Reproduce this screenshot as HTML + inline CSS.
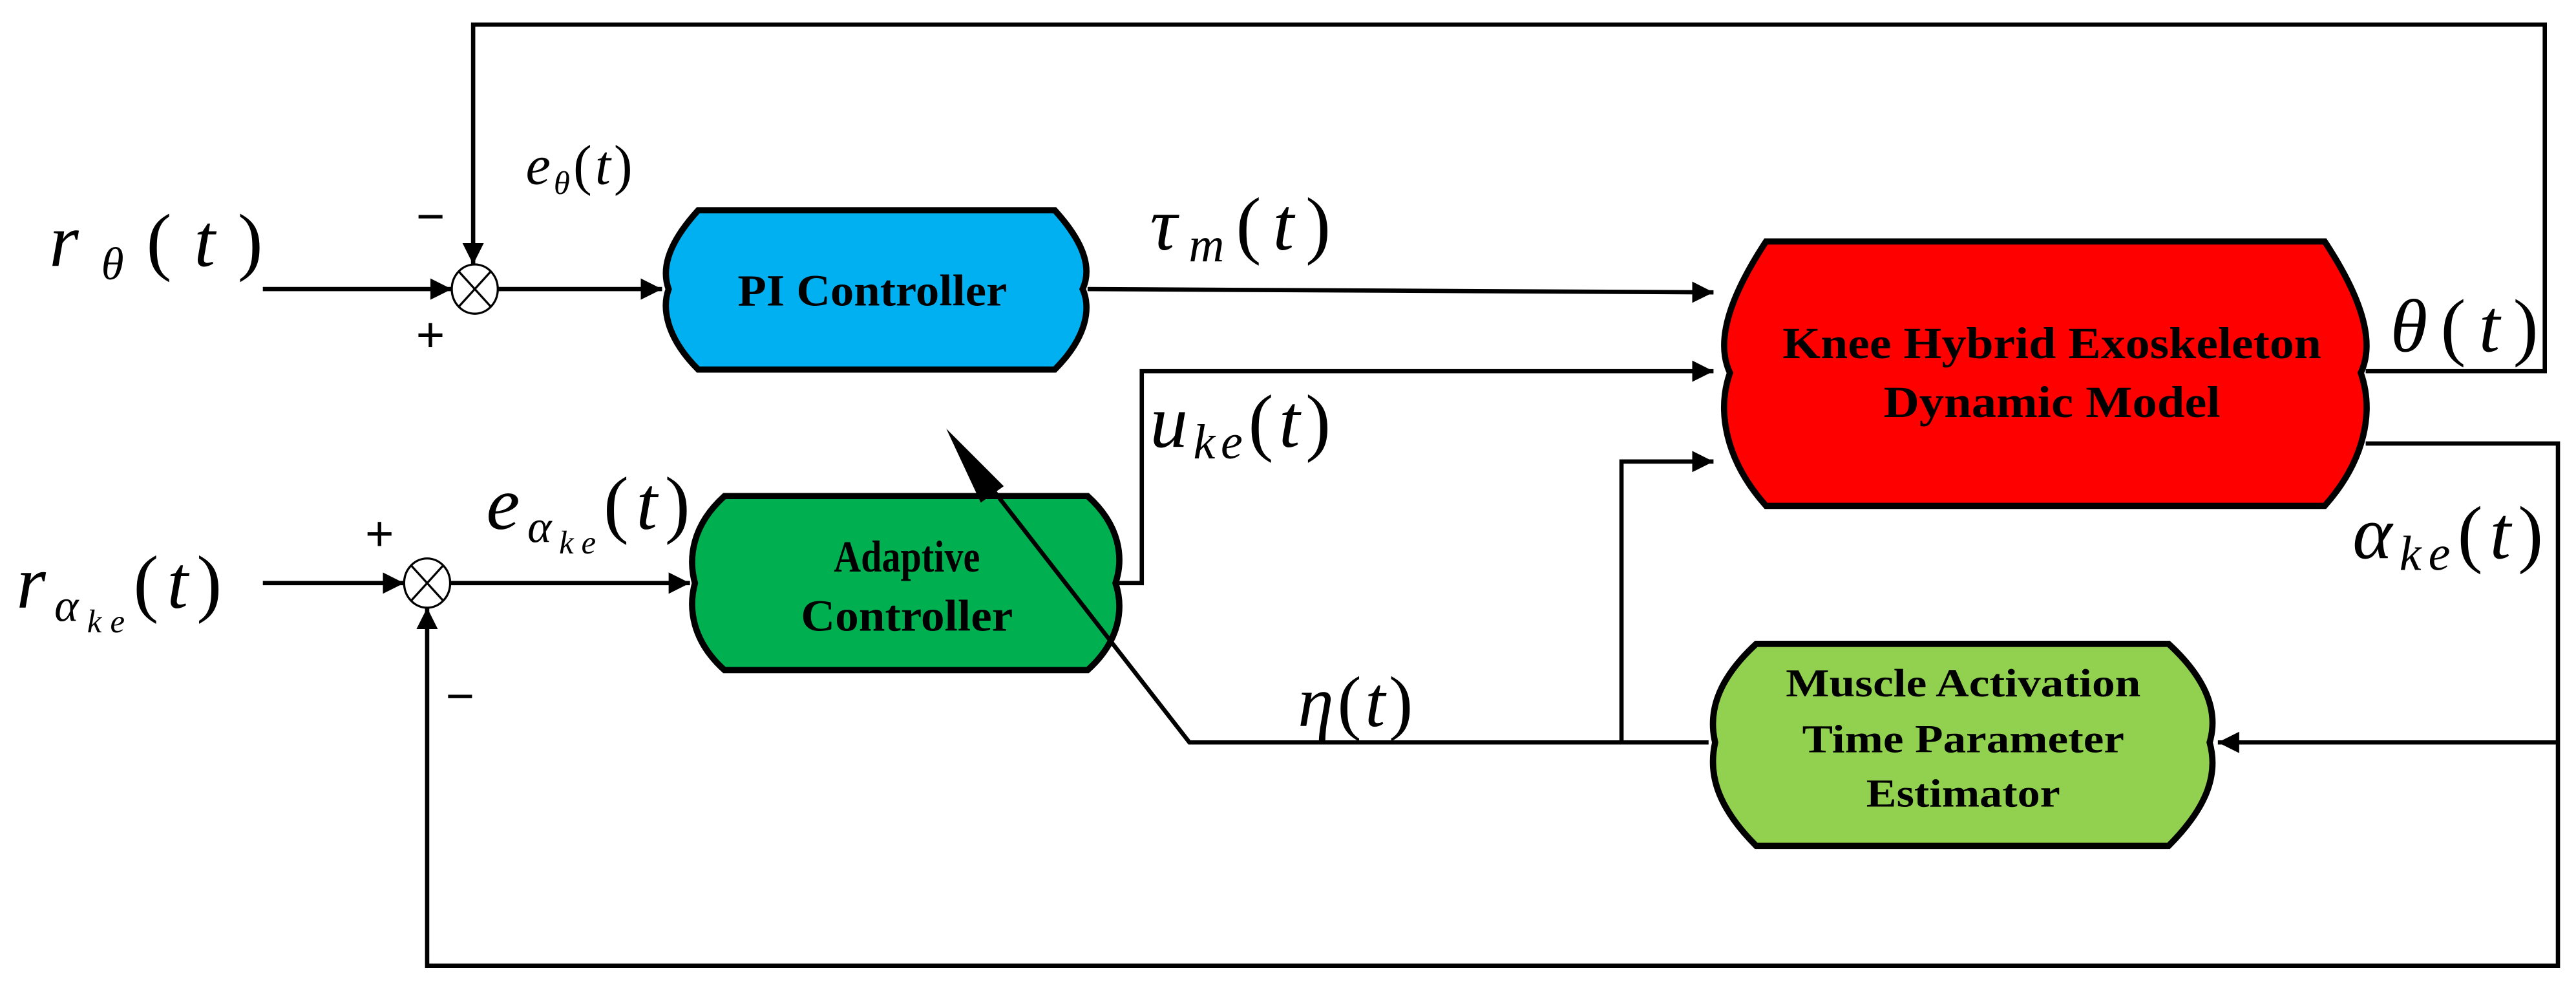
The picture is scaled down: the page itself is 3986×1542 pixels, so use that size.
<!DOCTYPE html>
<html><head><meta charset="utf-8"><style>
html,body{margin:0;padding:0;background:#fff;}
svg{display:block;}
.m{font-family:"Liberation Serif",serif;font-style:italic;}
.b{font-family:"Liberation Serif",serif;font-weight:bold;}
</style></head><body>
<svg width="3986" height="1542" viewBox="0 0 1568 607" preserveAspectRatio="none" xmlns="http://www.w3.org/2000/svg">
<defs>
<marker id="ar" viewBox="0 0 10 10" refX="10" refY="5" markerWidth="5" markerHeight="5" orient="auto">
<path d="M0,0 L10,5 L0,10 Z" fill="#000"/></marker>
</defs>
<g fill="none" stroke="#000" stroke-width="2.6">
<polyline points="1440,226 1549,226 1549,15 288,15 288,161" marker-end="url(#ar)"/>
<polyline points="160,176 275,176" marker-end="url(#ar)"/>
<polyline points="303,176 403,176" marker-end="url(#ar)"/>
<polyline points="662,176 1043,178" marker-end="url(#ar)"/>
<polyline points="681,355 695,355 695,226 1043,226" marker-end="url(#ar)"/>
<polyline points="987,452 987,281 1043,281" marker-end="url(#ar)"/>
<polyline points="1440,270 1557,270 1557,588 260,588 260,370" marker-end="url(#ar)"/>
<polyline points="1557,452 1350,452" marker-end="url(#ar)"/>
<polyline points="160,355 246,355" marker-end="url(#ar)"/>
<polyline points="274,355 420,355" marker-end="url(#ar)"/>
</g>
<g fill="#fff" stroke="#000" stroke-width="1.3">
<ellipse cx="289" cy="176" rx="14" ry="15"/>
<ellipse cx="260" cy="355" rx="14" ry="15"/>
</g>
<g stroke="#000" stroke-width="1.3">
<line x1="279" y1="165" x2="299" y2="187"/><line x1="299" y1="165" x2="279" y2="187"/>
<line x1="250" y1="344" x2="270" y2="366"/><line x1="270" y1="344" x2="250" y2="366"/>
</g>
<g stroke="#000" stroke-width="3.8">
<path d="M425,128 L642,128 C662,150 664,165 659,176 C664,187 662,205 642,225 L425,225 C405,205 403,187 407,176 C403,165 405,150 425,128 Z" fill="#00B0F0"/>
<path d="M441,302 L662,302 C682,320 684,340 679,355 C684,370 682,390 662,408 L441,408 C421,390 419,370 423,355 C419,340 421,320 441,302 Z" fill="#00B050"/>
<path d="M1075,147 L1415,147 C1440,185 1445,210 1437,227 C1445,250 1440,280 1415,308 L1075,308 C1050,280 1045,250 1053,227 C1045,210 1050,185 1075,147 Z" fill="#FF0000"/>
<path d="M1069,392 L1320,392 C1345,415 1350,435 1345,452 C1350,470 1345,490 1320,515 L1069,515 C1044,490 1040,470 1044,452 C1040,435 1044,415 1069,392 Z" fill="#92D050"/>
</g>
<polyline points="1040,452 724,452 598,290" fill="none" stroke="#000" stroke-width="2.6"/>
<path d="M576,261 L611,296 L597,306 Z" fill="#000"/>
<g class="b" fill="#000" text-anchor="middle">
<text x="531" y="186" font-size="27" textLength="164" lengthAdjust="spacingAndGlyphs">PI Controller</text>
<text x="552" y="348" font-size="27" textLength="89" lengthAdjust="spacingAndGlyphs">Adaptive</text>
<text x="552" y="384" font-size="27" textLength="129" lengthAdjust="spacingAndGlyphs">Controller</text>
<text x="1249" y="218" font-size="27" textLength="328" lengthAdjust="spacingAndGlyphs">Knee Hybrid Exoskeleton</text>
<text x="1249" y="254" font-size="27" textLength="205" lengthAdjust="spacingAndGlyphs">Dynamic Model</text>
<text x="1195" y="424" font-size="24" textLength="216" lengthAdjust="spacingAndGlyphs">Muscle Activation</text>
<text x="1195" y="458" font-size="24" textLength="196" lengthAdjust="spacingAndGlyphs">Time Parameter</text>
<text x="1195" y="491" font-size="24" textLength="118" lengthAdjust="spacingAndGlyphs">Estimator</text>
</g>
<g class="m" fill="#000">
<text x="30" y="162" font-size="46" textLength="130" lengthAdjust="spacing">r<tspan font-size="28" dy="8">θ</tspan><tspan dy="-8" font-style="normal">(</tspan>t<tspan font-style="normal">)</tspan></text>
<text x="320" y="112" font-size="34" textLength="65" lengthAdjust="spacing">e<tspan font-size="20" dy="6">θ</tspan><tspan dy="-6" font-style="normal">(</tspan>t<tspan font-style="normal">)</tspan></text>
<text x="700" y="152" font-size="46" textLength="110" lengthAdjust="spacing">τ<tspan font-size="30" dy="7">m</tspan><tspan dy="-7" font-style="normal">(</tspan>t<tspan font-style="normal">)</tspan></text>
<text x="700" y="272" font-size="46" textLength="110" lengthAdjust="spacing">u<tspan font-size="30" dy="7">ke</tspan><tspan dy="-7" font-style="normal">(</tspan>t<tspan font-style="normal">)</tspan></text>
<text x="1455" y="214" font-size="46" textLength="90" lengthAdjust="spacing">θ<tspan font-style="normal">(</tspan>t<tspan font-style="normal">)</tspan></text>
<text x="1432" y="340" font-size="46" textLength="116" lengthAdjust="spacing">α<tspan font-size="30" dy="7">ke</tspan><tspan dy="-7" font-style="normal">(</tspan>t<tspan font-style="normal">)</tspan></text>
<text x="790" y="442" font-size="44" textLength="70" lengthAdjust="spacing">η<tspan font-style="normal">(</tspan>t<tspan font-style="normal">)</tspan></text>
<text x="10" y="370" font-size="46" textLength="125" lengthAdjust="spacing">r<tspan font-size="28" dy="8">α</tspan><tspan font-size="20" dy="7">ke</tspan><tspan dy="-15" font-style="normal">(</tspan>t<tspan font-style="normal">)</tspan></text>
<text x="296" y="322" font-size="46" textLength="124" lengthAdjust="spacing">e<tspan font-size="28" dy="8">α</tspan><tspan font-size="20" dy="7">ke</tspan><tspan dy="-15" font-style="normal">(</tspan>t<tspan font-style="normal">)</tspan></text>
</g>
<g font-family="Liberation Sans,sans-serif" font-size="30" fill="#000" text-anchor="middle">
<text x="262" y="142">−</text>
<text x="262" y="214">+</text>
<text x="231" y="335">+</text>
<text x="280" y="434">−</text>
</g>
</svg>
</body></html>
